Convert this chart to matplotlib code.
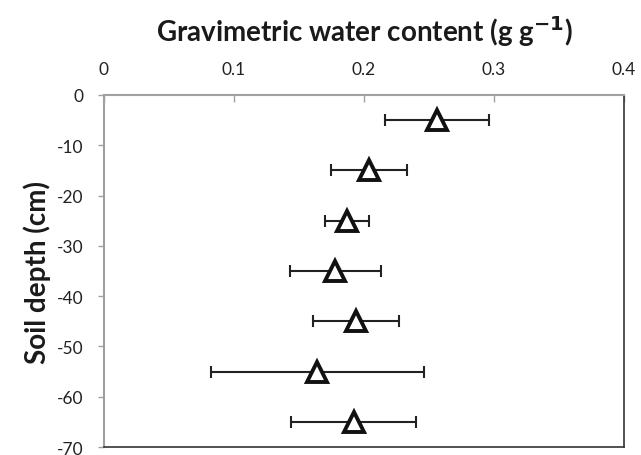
import matplotlib
matplotlib.use("Agg")
import matplotlib.pyplot as plt

# gravimetric water content by depth
depth = [-5, -15, -25, -35, -45, -55, -65]
water = [0.256, 0.204, 0.187, 0.178, 0.194, 0.164, 0.192]
err = [0.040, 0.029, 0.017, 0.035, 0.033, 0.082, 0.048]

xticks = [0, 0.1, 0.2, 0.3, 0.4]
xticklabels = ["0", "0.1", "0.2", "0.3", "0.4"]
yticks = [0, -10, -20, -30, -40, -50, -60, -70]

plt.rcParams["font.family"] = ["Lato", "DejaVu Sans"]
plt.rcParams["axes.unicode_minus"] = False

fig = plt.figure(figsize=(6.41, 4.56), dpi=100)
ax = fig.add_axes([0.1622, 0.0175, 0.8113, 0.772])

ax.errorbar(water, depth, xerr=err, fmt="none", ecolor="#222222",
            elinewidth=1.5, capsize=4, capthick=1.5, zorder=2)
ax.plot(water, depth, linestyle="none", marker="^", markersize=14,
        markerfacecolor="white", markeredgecolor="#111111",
        markeredgewidth=2.8, zorder=3)

ax.set_xlim(0, 0.4)
ax.set_ylim(-70, 0)
ax.set_xticks(xticks)
ax.set_xticklabels(xticklabels)
ax.set_yticks(yticks)

ax.xaxis.tick_top()
ax.xaxis.set_label_position("top")
ax.tick_params(axis="x", direction="in", length=5, width=1, color="#a0a0a0",
               labelsize=12.5, pad=13, labelcolor="#222222")
ax.tick_params(axis="y", direction="out", length=4, width=1, color="#a0a0a0",
               labelsize=12.5, pad=11, labelcolor="#222222")

ax.spines["top"].set_color("#a0a0a0")
ax.spines["left"].set_color("#a0a0a0")
ax.spines["top"].set_linewidth(1.5)
ax.spines["left"].set_linewidth(1.5)
ax.spines["right"].set_color("#333333")
ax.spines["bottom"].set_color("#333333")
ax.spines["right"].set_linewidth(1.2)
ax.spines["bottom"].set_linewidth(1.2)

ax.set_xlabel("Gravimetric water content (g g$^{\\mathbf{-1}}$)",
              fontsize=20, fontweight="bold", labelpad=14, color="#1a1a1a")
ax.set_ylabel("Soil depth (cm)", fontsize=20, fontweight="bold", labelpad=4,
              color="#1a1a1a")

fig.savefig("out.png", dpi=100)
